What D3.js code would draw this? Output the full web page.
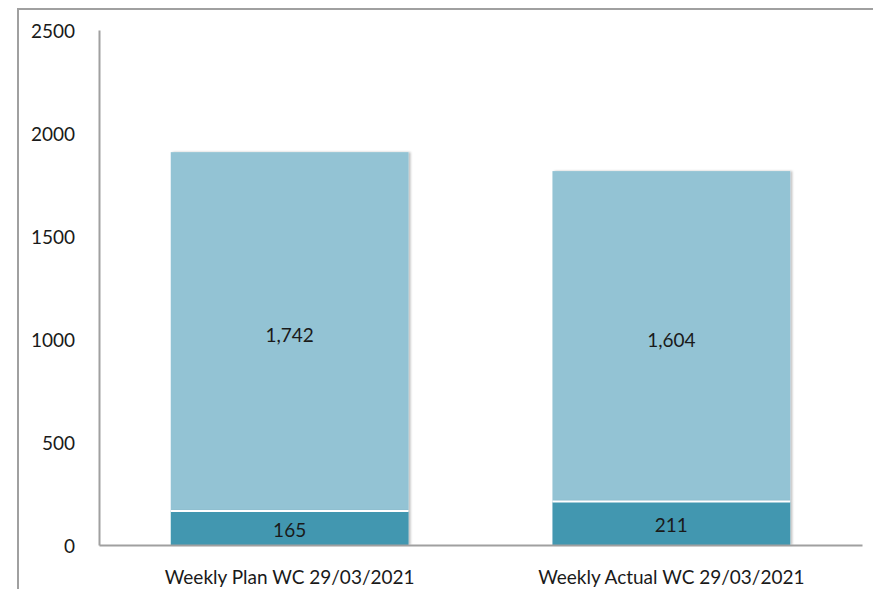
<!DOCTYPE html>
<html>
<head>
<meta charset="utf-8">
<script src="https://cdn.jsdelivr.net/npm/d3@7.9.0/dist/d3.min.js"></script>
<style>
  body { margin: 0; background: #fff; }
  svg { display: block; font-family: Lato, "Open Sans", sans-serif; }
</style>
</head>
<body>
<svg id="chart" width="873" height="589"></svg>
<script>
// data
const categories = ['Weekly Plan WC 29/03/2021', 'Weekly Actual WC 29/03/2021'];
const baseValues = [165, 211];
const topValues = [1742, 1604];
const yTicks = [0, 500, 1000, 1500, 2000, 2500];

const svg = d3.select('#chart');

// outer frame
svg.append('rect')
   .attr('x', 18).attr('y', 9)
   .attr('width', 900).attr('height', 640)
   .attr('fill', 'none')
   .attr('stroke', '#a0a0a0')
   .attr('stroke-width', 2);

const x = d3.scaleBand().domain(categories).range([99, 862]).paddingInner(0.377).paddingOuter(0.188);
const y = d3.scaleLinear().domain([0, 2500]).range([545, 30]);

// soft shadow to the right of the bars
const defs = svg.append('defs');
const f = defs.append('filter').attr('id', 'shadow').attr('x', '-5%').attr('y', '-5%').attr('width', '115%').attr('height', '115%');
f.append('feDropShadow').attr('dx', 2).attr('dy', 0).attr('stdDeviation', 1.2)
 .attr('flood-color', '#000').attr('flood-opacity', 0.25);

const stacked = categories.map((c, i) => ({ cat: c, base: baseValues[i], top: topValues[i] }));

const g = svg.append('g');
stacked.forEach(d => {
  const bx = x(d.cat), bw = x.bandwidth();
  // light upper segment
  g.append('rect')
   .attr('x', bx).attr('width', bw)
   .attr('y', y(d.base + d.top)).attr('height', y(d.base) - y(d.base + d.top))
   .attr('fill', '#93c3d4')
   .attr('filter', 'url(#shadow)');
  // dark base segment
  g.append('rect')
   .attr('x', bx).attr('width', bw)
   .attr('y', y(d.base)).attr('height', y(0) - y(d.base))
   .attr('fill', '#4397b0')
   .attr('filter', 'url(#shadow)');
  // white separator
  g.append('line')
   .attr('x1', bx).attr('x2', bx + bw)
   .attr('y1', y(d.base)).attr('y2', y(d.base))
   .attr('stroke', '#fff').attr('stroke-width', 2);

  g.append('text')
   .attr('x', bx + bw / 2).attr('y', (y(d.base) + y(d.base + d.top)) / 2 + 6)
   .attr('text-anchor', 'middle').attr('dominant-baseline', 'middle')
   .attr('font-size', 19).attr('fill', '#1a1a1a')
   .text(d3.format(',')(d.top));
  g.append('text')
   .attr('x', bx + bw / 2).attr('y', (y(0) + y(d.base)) / 2 + 4)
   .attr('text-anchor', 'middle').attr('dominant-baseline', 'middle')
   .attr('font-size', 19).attr('fill', '#1a1a1a')
   .text(d3.format(',')(d.base));
});

// y axis
const yAxis = svg.append('g')
  .attr('transform', 'translate(99,0)')
  .call(d3.axisLeft(y).tickValues(yTicks).tickSize(0).tickPadding(24).tickFormat(d3.format('d')));
yAxis.select('.domain').attr('stroke', '#a0a0a0').attr('stroke-width', 2);
yAxis.selectAll('text').attr('font-size', 19).attr('fill', '#1a1a1a')
  .attr('font-family', 'Lato, "Open Sans", sans-serif').attr('dy', '0.4em');

// x axis
const xAxis = svg.append('g')
  .attr('transform', 'translate(0,545)')
  .call(d3.axisBottom(x).tickSize(0).tickPadding(26));
xAxis.select('.domain').attr('stroke', '#a0a0a0').attr('stroke-width', 2);
xAxis.selectAll('text').attr('font-size', 19).attr('fill', '#1a1a1a')
  .attr('font-family', 'Lato, "Open Sans", sans-serif');
</script>
</body>
</html>
